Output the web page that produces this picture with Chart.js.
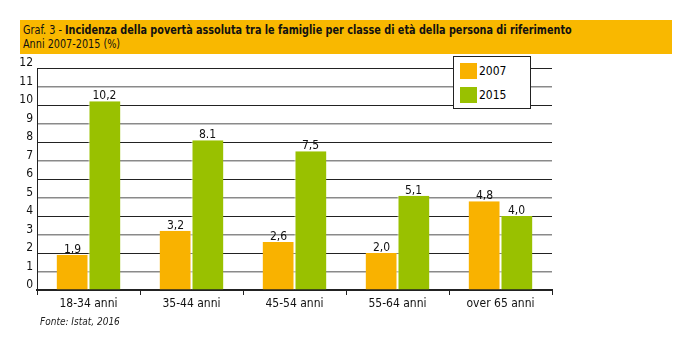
<!DOCTYPE html>
<html>
<head>
<meta charset="utf-8">
<script src="https://cdn.jsdelivr.net/npm/chart.js@4"></script>
<style>
  body { margin: 0; background: #fff; font-family: "DejaVu Sans Condensed", "DejaVu Sans", sans-serif; }
  #wrap { position: relative; width: 699px; height: 339px; }
  #titolo { position: absolute; left: 20px; top: 20px; width: 652px; height: 34px; background: #f9b800; color: #111; font-size: 12.5px; line-height: 14px; padding: 3px 0 0 3px; box-sizing: border-box; white-space: nowrap; }
  #titolo div { transform: scaleX(0.86); transform-origin: left top; }
  #titolo b { font-weight: bold; }
  #legenda { position: absolute; left: 453px; top: 56px; width: 78px; height: 53px; border: 1px solid #222; background: #fff; box-sizing: border-box; font-size: 12px; }
  .voce { position: absolute; left: 6px; height: 16px; line-height: 16px; }
  .voce span { display: inline-block; width: 17px; height: 16px; vertical-align: top; margin-right: 2px; }
  #fonte { position: absolute; left: 40px; top: 316px; font-size: 10px; font-style: italic; color: #222; }
  canvas { position: absolute; left: 0; top: 0; }
</style>
</head>
<body>
<div id="wrap">
  <canvas id="grafico" width="699" height="339"></canvas>
  <div id="titolo"><div>Graf. 3 - <b>Incidenza della povertà assoluta tra le famiglie per classe di età della persona di riferimento</b></div><div>Anni 2007-2015 (%)</div></div>
  <div id="legenda">
    <div class="voce" style="top:6px"><span style="background:#f9b200"></span>2007</div>
    <div class="voce" style="top:30px"><span style="background:#99c100"></span>2015</div>
  </div>
  <div id="fonte">Fonte: Istat, 2016</div>
</div>
<script>
const categorie = ['18-34 anni', '35-44 anni', '45-54 anni', '55-64 anni', 'over 65 anni'];
const valori2007 = [1.9, 3.2, 2.6, 2.0, 4.8];
const valori2015 = [10.2, 8.1, 7.5, 5.1, 4.0];
const etichette2007 = ['1,9', '3,2', '2,6', '2,0', '4,8'];
const etichette2015 = ['10,2', '8.1', '7,5', '5,1', '4,0'];

const fontBase = '"DejaVu Sans Condensed", "DejaVu Sans", sans-serif';

// etichette sopra le barre
const etichetteBarre = {
    id: 'etichetteBarre',
    afterDatasetsDraw(chart) {
        const ctx = chart.ctx;
        ctx.save();
        ctx.font = '12px ' + fontBase;
        ctx.fillStyle = '#111';
        ctx.textAlign = 'center';
        ctx.textBaseline = 'bottom';
        chart.data.datasets.forEach((ds, i) => {
            chart.getDatasetMeta(i).data.forEach((bar, j) => {
                ctx.fillText(ds.etichette[j], bar.x, bar.y + 1);
            });
        });
        ctx.restore();
    }
};

new Chart(document.getElementById('grafico'), {
    type: 'bar',
    data: {
        labels: categorie,
        datasets: [
            { label: '2007', data: valori2007, etichette: etichette2007, backgroundColor: '#f9b200', borderColor: '#fff', borderWidth: { right: 1 }, borderSkipped: false },
            { label: '2015', data: valori2015, etichette: etichette2015, backgroundColor: '#99c100', borderColor: '#fff', borderWidth: { left: 1 }, borderSkipped: false }
        ]
    },
    options: {
        responsive: false,
        animation: false,
        layout: { padding: { left: 12, right: 147, top: 68, bottom: 25 } },
        plugins: { legend: { display: false }, tooltip: { enabled: false } },
        datasets: { bar: { categoryPercentage: 0.62, barPercentage: 1 } },
        scales: {
            x: {
                grid: { drawOnChartArea: false, drawTicks: true, tickLength: 5, color: '#222', offset: true },
                border: { color: '#222', width: 2 },
                ticks: { color: '#111', font: { family: fontBase, size: 12 }, padding: 2 },
                afterFit: s => { s.height = 24; }
            },
            y: {
                min: 0, max: 12,
                grid: {
                    drawTicks: false,
                    color: c => (c.tick.value % 2 === 1 ? '#8a8a8a' : '#222'),
                    lineWidth: c => (c.tick.value % 2 === 1 ? 1.5 : 1)
                },
                border: { color: '#222', width: 1 },
                ticks: { stepSize: 1, color: '#111', font: { family: fontBase, size: 12 }, padding: 4, labelOffset: -5 },
                afterFit: s => { s.width = 25; }
            }
        }
    },
    plugins: [etichetteBarre]
});
</script>
</body>
</html>
